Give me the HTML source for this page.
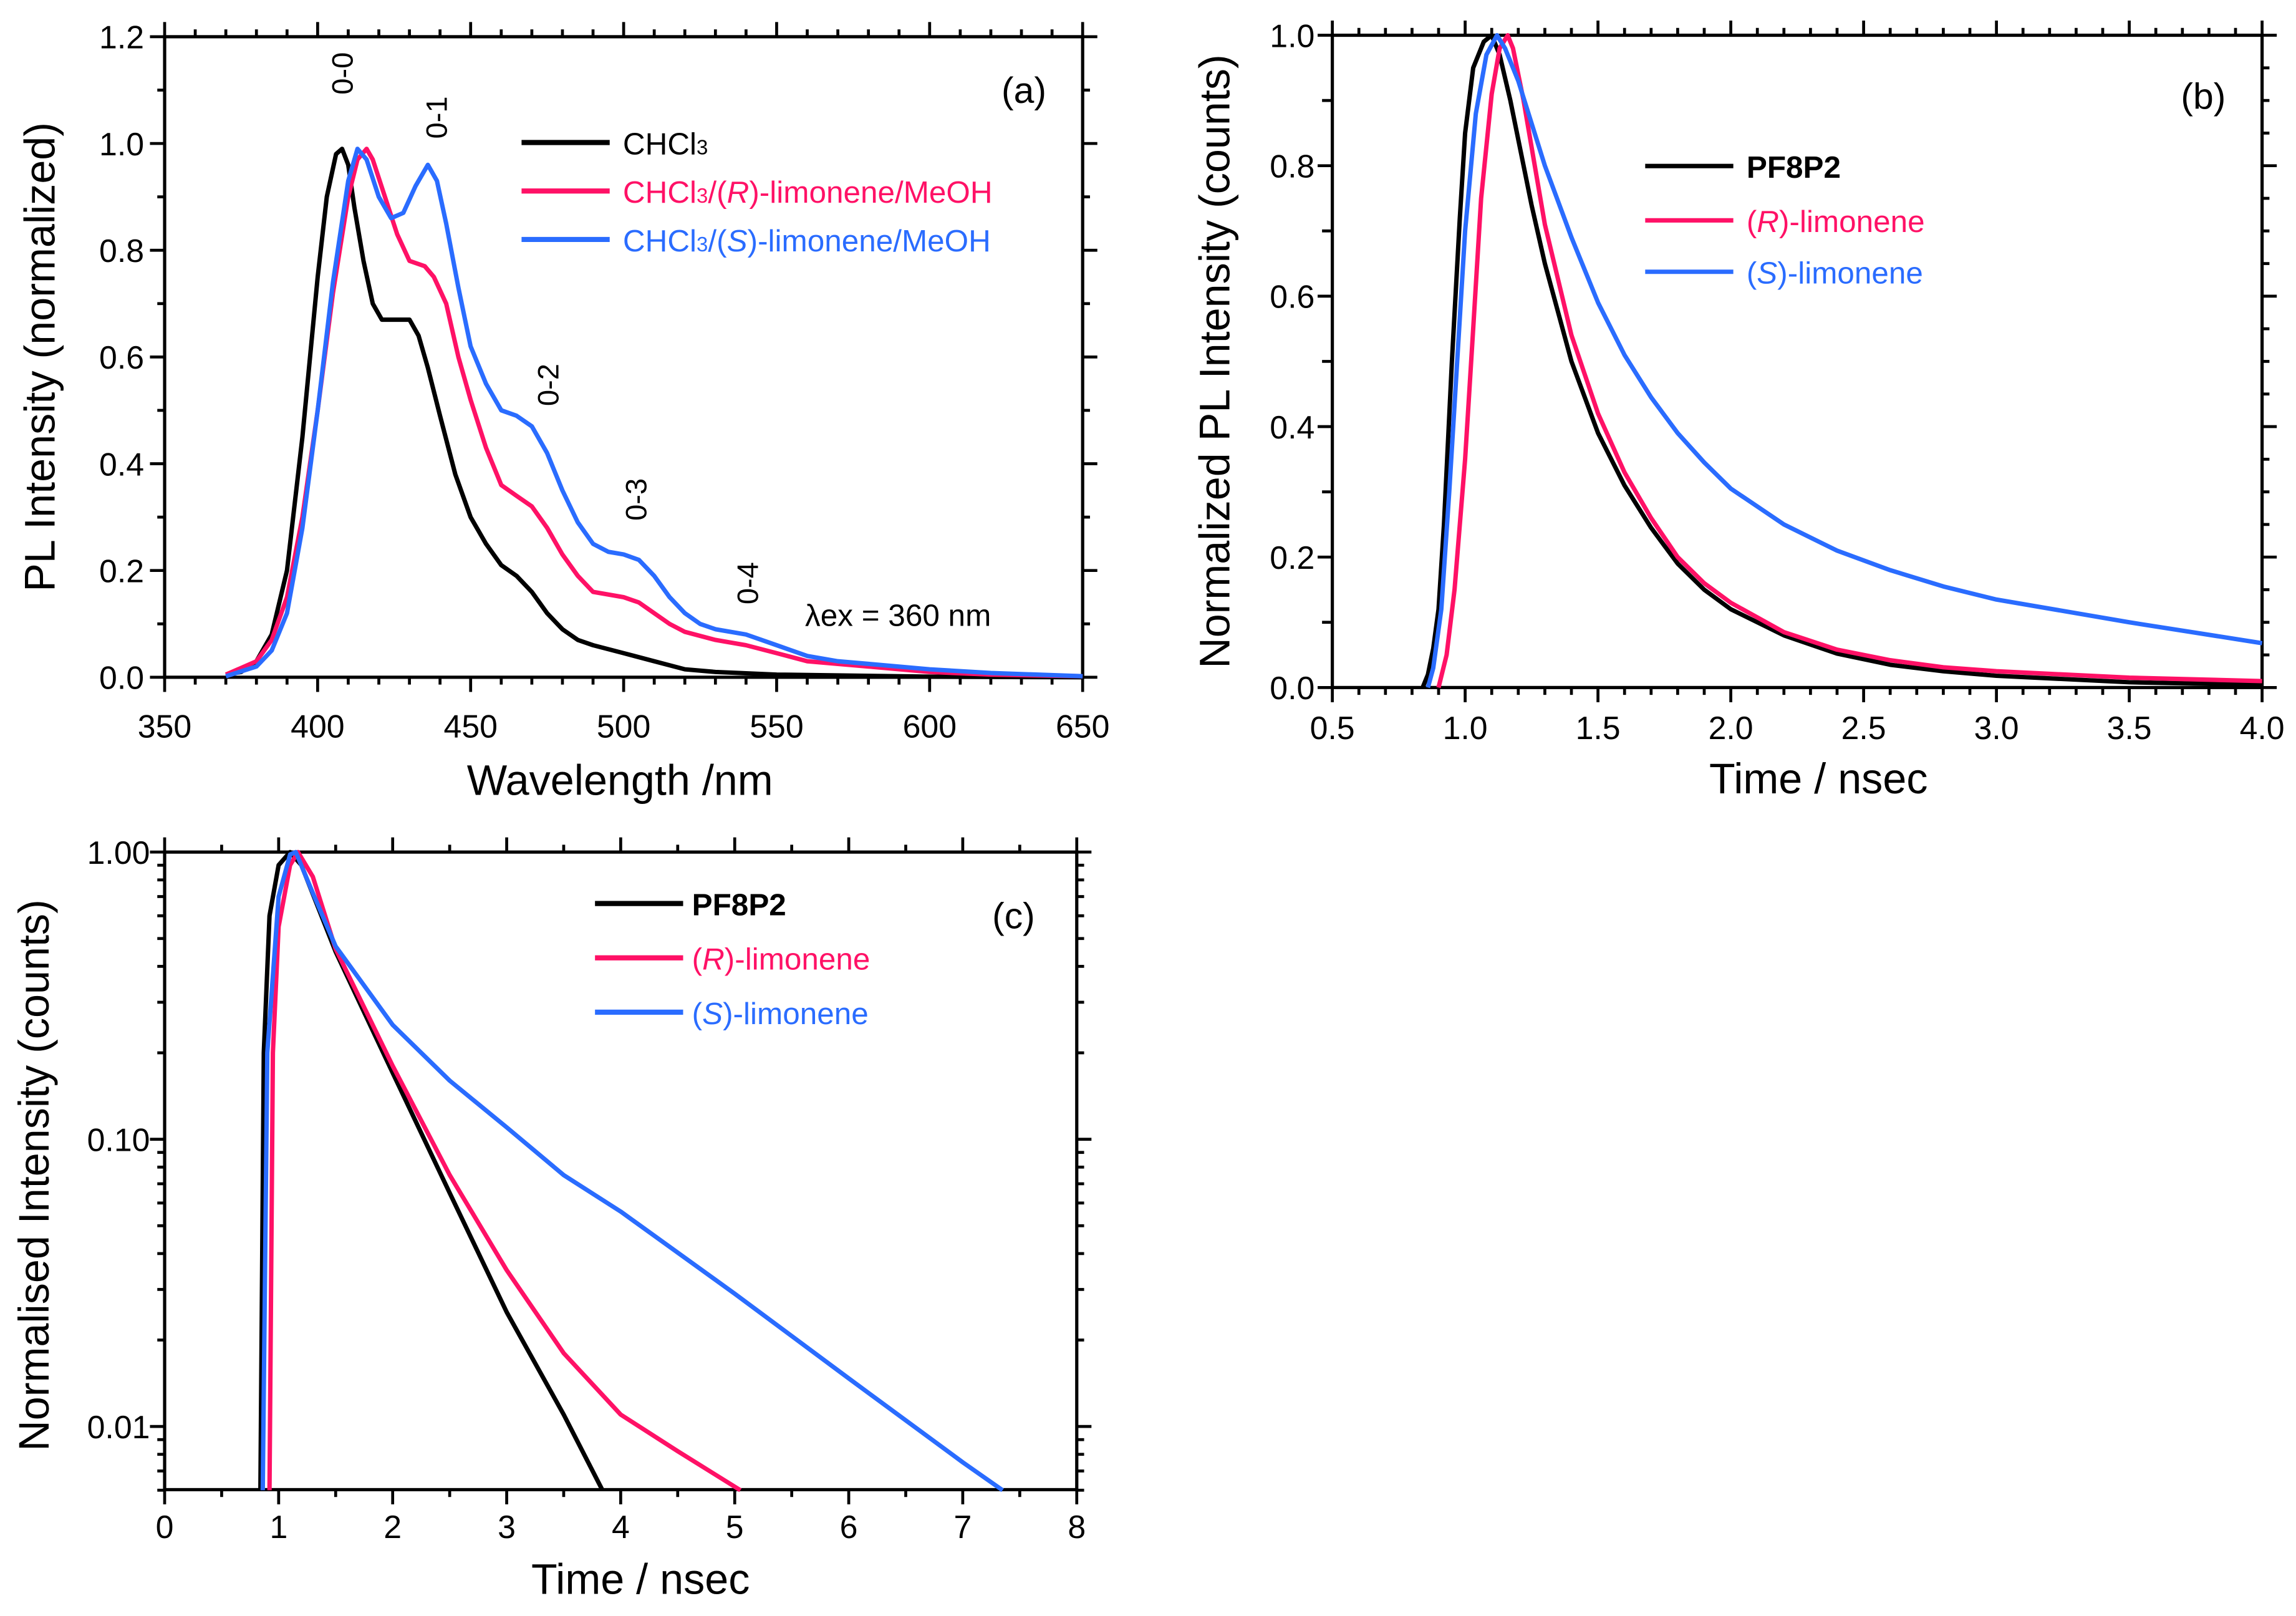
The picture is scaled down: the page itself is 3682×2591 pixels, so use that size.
<!DOCTYPE html>
<html><head><meta charset="utf-8"><style>
html,body{margin:0;padding:0;background:#fff;}
svg{display:block;font-family:"Liberation Sans",sans-serif;}
</style></head><body>
<svg id="fig" width="3682" height="2591" viewBox="0 0 1563 1100" xmlns="http://www.w3.org/2000/svg">
<rect width="1563" height="1100" fill="#fff"/>
</svg>
<script>
// ---------- Panel (a) data ----------
const aBlackX=[370,375,380,385,390,395,400,403,406,408,410,412,415,418,421,425,430,433,436,440,445,450,455,460,465,470,475,480,485,490,500,510,520,530,550,600,650];
const aBlackY=[0.005,0.01,0.03,0.08,0.2,0.45,0.75,0.9,0.98,0.99,0.96,0.88,0.78,0.7,0.67,0.67,0.67,0.64,0.58,0.49,0.38,0.3,0.25,0.21,0.19,0.16,0.12,0.09,0.07,0.06,0.045,0.03,0.015,0.01,0.005,0.001,0];
const aPinkX=[370,380,385,390,395,400,405,410,413,416,418,422,426,430,435,438,442,446,450,455,460,465,470,475,480,485,490,495,500,505,510,515,520,530,540,550,560,570,580,600,620,650];
const aPinkY=[0.005,0.03,0.07,0.15,0.3,0.5,0.72,0.9,0.97,0.99,0.97,0.9,0.83,0.78,0.77,0.75,0.7,0.6,0.52,0.43,0.36,0.34,0.32,0.28,0.23,0.19,0.16,0.155,0.15,0.14,0.12,0.1,0.085,0.07,0.06,0.045,0.03,0.025,0.02,0.01,0.005,0.002];
const aBlueX=[370,380,385,390,395,400,405,410,413,416,420,424,428,432,436,439,442,446,450,455,460,465,470,475,480,485,490,495,500,505,510,515,520,525,530,540,550,560,570,580,600,620,650];
const aBlueY=[0.002,0.02,0.05,0.12,0.28,0.5,0.74,0.93,0.99,0.97,0.9,0.86,0.87,0.92,0.96,0.93,0.85,0.73,0.62,0.55,0.5,0.49,0.47,0.42,0.35,0.29,0.25,0.235,0.23,0.22,0.19,0.15,0.12,0.1,0.09,0.08,0.06,0.04,0.03,0.025,0.015,0.008,0.002];
const aXTicks=[350,400,450,500,550,600,650];
const aYTicks=["0.0","0.2","0.4","0.6","0.8","1.0","1.2"];
// ---------- Panel (b) data ----------
const bBlackX=[0.84,0.86,0.88,0.9,0.92,0.95,0.98,1.0,1.03,1.07,1.1,1.13,1.17,1.2,1.25,1.3,1.4,1.5,1.6,1.7,1.8,1.9,2.0,2.2,2.4,2.6,2.8,3.0,3.5,4.0];
const bBlackY=[0,0.02,0.06,0.12,0.25,0.5,0.72,0.85,0.95,0.99,1.0,0.97,0.9,0.84,0.74,0.65,0.5,0.39,0.31,0.245,0.19,0.15,0.12,0.08,0.052,0.035,0.025,0.018,0.008,0.004];
const bPinkX=[0.9,0.93,0.96,1.0,1.03,1.06,1.1,1.13,1.16,1.18,1.22,1.3,1.4,1.5,1.6,1.7,1.8,1.9,2.0,2.2,2.4,2.6,2.8,3.0,3.5,4.0];
const bPinkY=[0,0.05,0.15,0.35,0.55,0.75,0.91,0.98,1.0,0.98,0.9,0.71,0.54,0.42,0.33,0.26,0.2,0.16,0.13,0.085,0.058,0.042,0.031,0.025,0.015,0.01];
const bBlueX=[0.86,0.88,0.91,0.94,0.97,1.0,1.04,1.08,1.12,1.15,1.2,1.3,1.4,1.5,1.6,1.7,1.8,1.9,2.0,2.2,2.4,2.6,2.8,3.0,3.5,4.0];
const bBlueY=[0,0.03,0.12,0.3,0.5,0.7,0.88,0.97,1.0,0.98,0.93,0.8,0.69,0.59,0.51,0.445,0.39,0.345,0.305,0.25,0.21,0.18,0.155,0.135,0.1,0.068];
const bXTicks=["0.5","1.0","1.5","2.0","2.5","3.0","3.5","4.0"];
const bYTicks=["0.0","0.2","0.4","0.6","0.8","1.0"];
// ---------- Panel (c) data ----------
const cBlackX=[0.84,0.87,0.92,1.0,1.1,1.2,1.5,2.0,2.5,3.0,3.5,3.84];
const cBlackY=[0.006,0.2,0.6,0.9,1.0,0.9,0.45,0.17,0.065,0.025,0.011,0.006];
const cPinkX=[0.92,0.95,1.0,1.1,1.17,1.3,1.5,2.0,2.5,3.0,3.5,4.0,4.5,5.05];
const cPinkY=[0.006,0.2,0.55,0.9,1.0,0.82,0.46,0.18,0.075,0.035,0.018,0.011,0.0082,0.006];
const cBlueX=[0.86,0.9,1.0,1.1,1.15,1.3,1.5,2.0,2.5,3.0,3.5,4.0,5.0,6.0,7.0,7.35];
const cBlueY=[0.006,0.2,0.7,0.98,1.0,0.72,0.47,0.25,0.16,0.11,0.075,0.056,0.029,0.0147,0.0075,0.006];
const cXTicks=[0,1,2,3,4,5,6,7,8];
const cYTicks=["1.00","0.10","0.01"];

const NS="http://www.w3.org/2000/svg";
const svg=document.getElementById('fig');
const PINK="#ff1166", BLUE="#2a6cff", BLACK="#000";
function mk(tag,attrs,parent){const e=document.createElementNS(NS,tag);for(const k in attrs)e.setAttribute(k,attrs[k]);(parent||svg).appendChild(e);return e;}
function txt(s,x,y,size,parent,extra){const t=mk('text',Object.assign({x:x,y:y,'font-size':size},extra||{}),parent);t.textContent=s;return t;}
function line(x1,y1,x2,y2,parent,w){return mk('line',{x1:x1,y1:y1,x2:x2,y2:y2,stroke:'#000','stroke-width':w||2},parent);}

function frame(g,L,T,R,B){mk('rect',{x:L,y:T,width:R-L,height:B-T,fill:'none',stroke:'#000','stroke-width':2.2},g);}
function series(g,xs,ys,fx,fy,color,name){
  const p=mk('path',{d:xs.map((x,i)=>(i?'L':'M')+fx(x).toFixed(1)+','+fy(ys[i]).toFixed(1)).join(' '),fill:'none',stroke:color,'stroke-width':3,'stroke-linejoin':'round'},g);
  
  
}

// ===== Panel (a) =====
(function(){
  const g=mk('g',{});
  
  
  const L=112,R=737,T=25,B=461;
  const fx=v=>L+(v-350)/300*(R-L), fy=v=>B-v/1.2*(B-T);
  frame(g,L,T,R,B);
  for(let v=350;v<=650;v+=10){const x=fx(v);const M=(v%50===0);line(x,B,x,B+(M?10:5),g);line(x,T,x,T-(M?10:5),g);}
  for(let k=0;k<=12;k++){const y=fy(k/10);const M=(k%2===0);line(L,y,L-(M?10:5),y,g);line(R,y,R+(M?10:5),y,g);}
  aXTicks.forEach(v=>{const t=txt(String(v),fx(v),B+41,22,g,{'text-anchor':'middle'});});
  aYTicks.forEach(s=>{const t=txt(s,L-14,fy(parseFloat(s))+8,22,g,{'text-anchor':'end'});});
  const xt=txt('Wavelength /nm',422,541,29,g,{'text-anchor':'middle'});
  const yt=txt('PL Intensity (normalized)',0,0,29,g,{'text-anchor':'middle',transform:'translate(37,243) rotate(-90)'});
  series(g,aBlackX,aBlackY,fx,fy,BLACK,'series-chcl3');
  series(g,aPinkX,aPinkY,fx,fy,PINK,'series-r-limonene');
  series(g,aBlueX,aBlueY,fx,fy,BLUE,'series-s-limonene');
  const lg=mk('g',{},g);
  [[97,BLACK,'CHCl<tspan font-size="14">3</tspan>'],[130,PINK,'CHCl<tspan font-size="14">3</tspan>/(<tspan font-style="italic">R</tspan>)-limonene/MeOH'],[163,BLUE,'CHCl<tspan font-size="14">3</tspan>/(<tspan font-style="italic">S</tspan>)-limonene/MeOH']].forEach(e=>{
    mk('line',{x1:355,y1:e[0],x2:415,y2:e[0],stroke:e[1],'stroke-width':3.5},lg);
    const t=mk('text',{x:424,y:e[0]+8,'font-size':21,fill:e[1]},lg);t.innerHTML=e[2];
  });
  txt('(a)',697,70,25,g,{'text-anchor':'middle'});
  [['0-0',240,50],['0-1',304,80],['0-2',380,262],['0-3',440,340],['0-4',516,397]].forEach(a=>{
    const t=txt(a[0],0,0,20,g,{'text-anchor':'middle',transform:'translate('+a[1]+','+a[2]+') rotate(-90)'});
    
  });
  txt('λex = 360 nm',548,426,21,g);
})();

// ===== Panel (b) =====
(function(){
  const g=mk('g',{});
  
  
  const L=907,R=1540,T=24,B=468;
  const fx=v=>L+(v-0.5)/3.5*(R-L), fy=v=>B-v*(B-T);
  frame(g,L,T,R,B);
  for(let k=5;k<=40;k++){const x=fx(k/10);const M=(k%5===0);line(x,B,x,B+(M?10:5),g);line(x,T,x,T-(M?10:5),g);}
  for(let k=0;k<=20;k++){const y=fy(k/20);const M=(k%4===0);const m2=(k%2===0);line(L,y,L-(M?10:(m2?7:0)),y,g);line(R,y,R+(M?10:5),y,g);}
  bXTicks.forEach(s=>{const t=txt(s,fx(parseFloat(s)),B+35,22,g,{'text-anchor':'middle'});});
  bYTicks.forEach(s=>{const t=txt(s,L-12,fy(parseFloat(s))+8,22,g,{'text-anchor':'end'});});
  const xt=txt('Time / nsec',1238,540,29,g,{'text-anchor':'middle'});
  const yt=txt('Normalized PL Intensity (counts)',0,0,29,g,{'text-anchor':'middle',transform:'translate(837,246) rotate(-90)'});
  series(g,bBlackX,bBlackY,fx,fy,BLACK,'series-pf8p2');
  series(g,bPinkX,bPinkY,fx,fy,PINK,'series-r-limonene');
  series(g,bBlueX,bBlueY,fx,fy,BLUE,'series-s-limonene');
  const lg=mk('g',{},g);
  [[113,BLACK,'<tspan font-weight="bold">PF8P2</tspan>'],[150,PINK,'(<tspan font-style="italic">R</tspan>)-limonene'],[185,BLUE,'(<tspan font-style="italic">S</tspan>)-limonene']].forEach(e=>{
    mk('line',{x1:1120,y1:e[0],x2:1180,y2:e[0],stroke:e[1],'stroke-width':3},lg);
    const t=mk('text',{x:1189,y:e[0]+8,'font-size':21,fill:e[1]},lg);t.innerHTML=e[2];
  });
  txt('(b)',1500,74,25,g,{'text-anchor':'middle'});
})();

// ===== Panel (c) =====
(function(){
  const g=mk('g',{});
  
  
  const L=112,R=733,T=580,B=1014,DEC=195.5;
  const fx=v=>L+v/8*(R-L), fy=v=>T-Math.log10(v)*DEC;
  frame(g,L,T,R,B);
  for(let k=0;k<=16;k++){const x=fx(k/2);const M=(k%2===0);line(x,B,x,B+(M?10:5),g);line(x,T,x,T-(M?10:5),g);}
  [0.01,0.1,1].forEach(d=>{for(let m=1;m<10;m++){const v=d*m;if(v>1.0001||v<0.006)continue;const y=fy(v);line(L,y,L-(m===1?10:5),y,g);line(R,y,R+(m===1?10:5),y,g);}});
  [0.006,0.007,0.008,0.009].forEach(v=>{const y=fy(v);line(L,y,L-5,y,g);line(R,y,R+5,y,g);});
  cXTicks.forEach(v=>{const t=txt(String(v),fx(v),B+33,22,g,{'text-anchor':'middle'});});
  cYTicks.forEach(s=>{const t=txt(s,L-10,fy(parseFloat(s))+8,22,g,{'text-anchor':'end'});});
  const xt=txt('Time / nsec',436,1085,29,g,{'text-anchor':'middle'});
  const yt=txt('Normalised Intensity (counts)',0,0,29,g,{'text-anchor':'middle',transform:'translate(33,800) rotate(-90)'});
  series(g,cBlackX,cBlackY,fx,fy,BLACK,'series-pf8p2');
  series(g,cPinkX,cPinkY,fx,fy,PINK,'series-r-limonene');
  series(g,cBlueX,cBlueY,fx,fy,BLUE,'series-s-limonene');
  const lg=mk('g',{},g);
  [[615,BLACK,'<tspan font-weight="bold">PF8P2</tspan>'],[652,PINK,'(<tspan font-style="italic">R</tspan>)-limonene'],[689,BLUE,'(<tspan font-style="italic">S</tspan>)-limonene']].forEach(e=>{
    mk('line',{x1:405,y1:e[0],x2:465,y2:e[0],stroke:e[1],'stroke-width':3.5},lg);
    const t=mk('text',{x:471,y:e[0]+8,'font-size':21,fill:e[1]},lg);t.innerHTML=e[2];
  });
  txt('(c)',690,632,25,g,{'text-anchor':'middle'});
})();
</script>
</body></html>
